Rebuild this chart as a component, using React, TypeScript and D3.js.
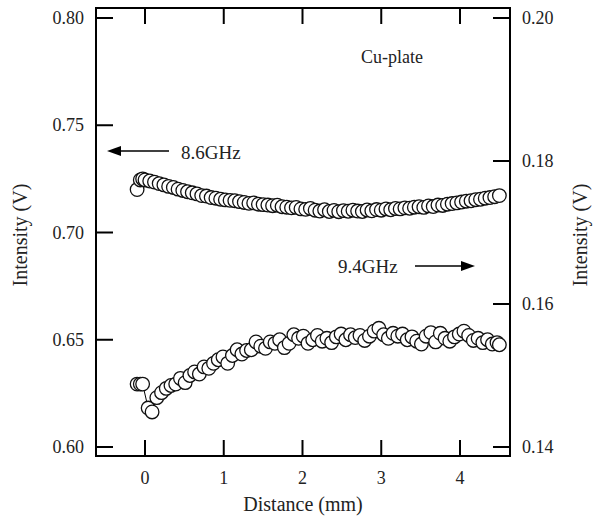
import React from "react";
import * as d3 from "d3";

const W = 600, H = 517;

// 8.6 GHz series (left axis)
const dist86 = [-0.10, -0.06, -0.03, 0.00, 0.06, 0.12, 0.18, 0.24, 0.30, 0.36, 0.42, 0.48, 0.54, 0.60, 0.66, 0.72, 0.78, 0.84, 0.90, 0.96, 1.02, 1.08, 1.14, 1.20, 1.26, 1.32, 1.38, 1.44, 1.50, 1.56, 1.62, 1.68, 1.74, 1.80, 1.86, 1.92, 1.98, 2.04, 2.10, 2.16, 2.22, 2.28, 2.34, 2.40, 2.46, 2.52, 2.58, 2.64, 2.70, 2.76, 2.82, 2.88, 2.94, 3.00, 3.06, 3.12, 3.18, 3.24, 3.30, 3.36, 3.42, 3.48, 3.54, 3.60, 3.66, 3.72, 3.78, 3.84, 3.90, 3.96, 4.02, 4.08, 4.14, 4.20, 4.26, 4.32, 4.38, 4.44, 4.50];
const int86 = [0.7200, 0.7245, 0.7250, 0.7245, 0.7240, 0.7235, 0.7228, 0.7222, 0.7215, 0.7210, 0.7202, 0.7196, 0.7190, 0.7185, 0.7180, 0.7172, 0.7170, 0.7163, 0.7160, 0.7155, 0.7152, 0.7150, 0.7148, 0.7144, 0.7140, 0.7136, 0.7138, 0.7132, 0.7130, 0.7128, 0.7125, 0.7127, 0.7120, 0.7118, 0.7115, 0.7117, 0.7110, 0.7108, 0.7112, 0.7104, 0.7100, 0.7106, 0.7098, 0.7103, 0.7097, 0.7102, 0.7099, 0.7104, 0.7100, 0.7098, 0.7105, 0.7101, 0.7107, 0.7104, 0.7110, 0.7106, 0.7112, 0.7110, 0.7115, 0.7113, 0.7118, 0.7120, 0.7117, 0.7124, 0.7121, 0.7128, 0.7126, 0.7132, 0.7135, 0.7138, 0.7142, 0.7146, 0.7148, 0.7153, 0.7155, 0.7160, 0.7163, 0.7167, 0.7172];

// 9.4 GHz series (right axis)
const dist94 = [-0.10, -0.06, -0.03, 0.04, 0.09, 0.15, 0.21, 0.27, 0.33, 0.39, 0.45, 0.51, 0.57, 0.63, 0.69, 0.75, 0.81, 0.87, 0.93, 0.99, 1.05, 1.11, 1.17, 1.23, 1.29, 1.35, 1.41, 1.47, 1.53, 1.59, 1.65, 1.71, 1.77, 1.83, 1.89, 1.95, 2.01, 2.07, 2.13, 2.19, 2.25, 2.31, 2.37, 2.43, 2.49, 2.55, 2.61, 2.67, 2.73, 2.79, 2.85, 2.91, 2.97, 3.03, 3.09, 3.15, 3.21, 3.27, 3.33, 3.39, 3.45, 3.51, 3.57, 3.63, 3.69, 3.75, 3.81, 3.87, 3.93, 3.99, 4.05, 4.11, 4.17, 4.23, 4.29, 4.35, 4.41, 4.47, 4.50];
const int94 = [0.1488, 0.1488, 0.1488, 0.14545, 0.1449, 0.1469, 0.1476, 0.1482, 0.1486, 0.1488, 0.1496, 0.1490, 0.1500, 0.1505, 0.1502, 0.1512, 0.1510, 0.1517, 0.1522, 0.1526, 0.1517, 0.1528, 0.1536, 0.1530, 0.1535, 0.1536, 0.1547, 0.1541, 0.1538, 0.1547, 0.1545, 0.1550, 0.1539, 0.1545, 0.1557, 0.1552, 0.1555, 0.1545, 0.1550, 0.1556, 0.1548, 0.1552, 0.1546, 0.1554, 0.1558, 0.1550, 0.1557, 0.1553, 0.1556, 0.1549, 0.1555, 0.1562, 0.1566, 0.1557, 0.1552, 0.1559, 0.1555, 0.1558, 0.1550, 0.1554, 0.1548, 0.1544, 0.1555, 0.1560, 0.1547, 0.1559, 0.1552, 0.1548, 0.1554, 0.1558, 0.1562, 0.1556, 0.1549, 0.1552, 0.1546, 0.1550, 0.1544, 0.1546, 0.1543];

const xTicks = [0, 1, 2, 3, 4];
const yLeftTicks = [0.60, 0.65, 0.70, 0.75, 0.80];
const yRightTicks = [0.14, 0.16, 0.18, 0.20];

const L = 96, R = 510, T = 8, B = 456;
const FONT = "'Liberation Serif', 'Times New Roman', serif";

export default function App() {
  const x = d3.scaleLinear().domain([0, 4]).range([145, 460]);
  const yL = d3.scaleLinear().domain([0.60, 0.80]).range([447, 18]);
  const yR = d3.scaleLinear().domain([0.14, 0.20]).range([447, 18]);

  const pts86 = dist86.map((d, i) => [x(d), yL(int86[i])] as [number, number]);
  const pts94 = dist94.map((d, i) => [x(d), yR(int94[i])] as [number, number]);
  const line = d3.line();

  const tickLen = 16;
  const fs = 18;
  const ft = 20;
  const fa = 19;

  return (
    <svg width={W} height={H} style={{ position: "absolute", left: 0, top: 0, background: "#fff" }} fontFamily={FONT} fill="#222">
      <rect x={0} y={0} width={W} height={H} fill="#fff" />
      {/* series */}
      {[pts86, pts94].map((pts, s) => (
        <g key={s}>
          <path d={line(pts) || ""} fill="none" stroke="#000" strokeWidth={1} />
          {pts.map((p, i) => (
            <circle key={i} cx={p[0]} cy={p[1]} r={6.8} fill="#fff" stroke="#111" strokeWidth={1.3} />
          ))}
        </g>
      ))}
      {/* frame */}
      <rect x={L} y={T} width={R - L} height={B - T} fill="none" stroke="#000" strokeWidth={2} />
      {/* x ticks */}
      {xTicks.map((t) => (
        <g key={t}>
          <line x1={x(t)} x2={x(t)} y1={B} y2={B - tickLen} stroke="#000" strokeWidth={2} />
          <line x1={x(t)} x2={x(t)} y1={T} y2={T + tickLen} stroke="#000" strokeWidth={2} />
          <text x={x(t)} y={484} textAnchor="middle" fontSize={fs}>{t}</text>
        </g>
      ))}
      {/* left ticks */}
      {yLeftTicks.map((t) => (
        <g key={t}>
          <line x1={L} x2={L + 17} y1={yL(t)} y2={yL(t)} stroke="#000" strokeWidth={2} />
          <text x={84} y={yL(t) + 6} textAnchor="end" fontSize={fs}>{t.toFixed(2)}</text>
        </g>
      ))}
      {/* right ticks */}
      {yRightTicks.map((t) => (
        <g key={t}>
          <line x1={R - 17} x2={R} y1={yR(t)} y2={yR(t)} stroke="#000" strokeWidth={2} />
          <text x={522} y={yR(t) + 6} textAnchor="start" fontSize={fs}>{t.toFixed(2)}</text>
        </g>
      ))}
      {/* axis titles */}
      <text x={303} y={511} textAnchor="middle" fontSize={ft}>Distance (mm)</text>
      <text transform={`translate(27,235) rotate(-90)`} textAnchor="middle" fontSize={ft}>Intensity (V)</text>
      <text transform={`translate(587,235) rotate(-90)`} textAnchor="middle" fontSize={ft}>Intensity (V)</text>
      {/* annotations */}
      <text x={361} y={63} fontSize={fs}>Cu-plate</text>
      <text x={181} y={159} fontSize={fa}>8.6GHz</text>
      <line x1={169} x2={115} y1={151} y2={151} stroke="#000" strokeWidth={1.5} />
      <path d="M107,151 L121,146 L121,156 Z" fill="#000" />
      <text x={338} y={273} fontSize={fa}>9.4GHz</text>
      <line x1={415} x2={467} y1={266} y2={266} stroke="#000" strokeWidth={1.5} />
      <path d="M475,266 L461,261 L461,271 Z" fill="#000" />
    </svg>
  );
}
